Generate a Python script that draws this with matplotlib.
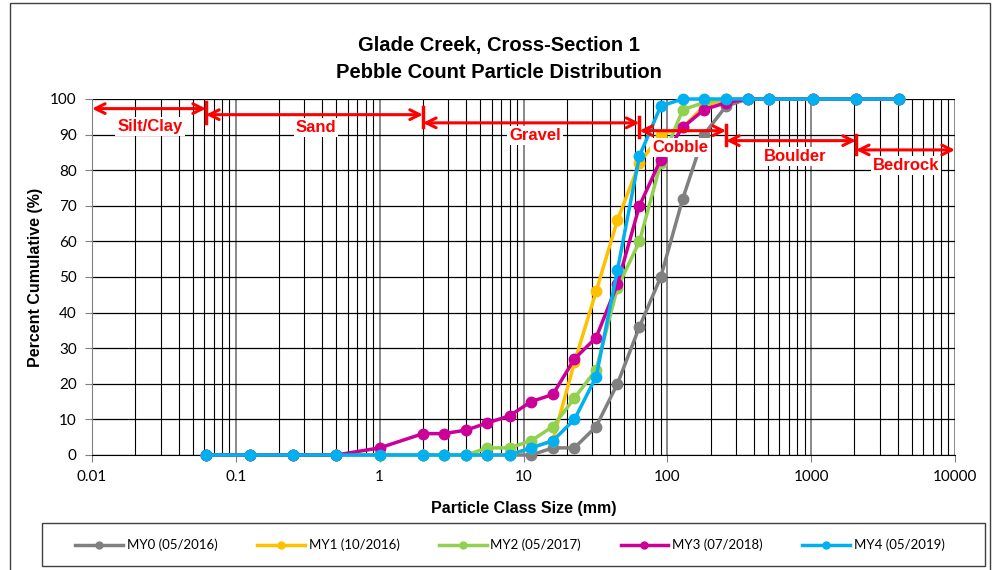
import numpy as np
import matplotlib
matplotlib.use('Agg')
import matplotlib.pyplot as plt
from matplotlib.lines import Line2D
from matplotlib.patches import Rectangle

# particle class sizes (mm)
sizes = [0.062, 0.125, 0.25, 0.5, 1, 2, 2.8, 4, 5.6, 8, 11.3, 16, 22.6, 32, 45,
         64, 90, 128, 180, 256, 362, 512, 1024, 2048, 4096]

my0 = [0, 0, 0, 0, 0, 0, 0, 0, 0, 0, 0, 2, 2, 8, 20, 36, 50, 72, 90, 98, 100, 100, 100, 100, 100]
my1 = [0, 0, 0, 0, 0, 0, 0, 0, 0, 0, 2, 4, 26, 46, 66, 82, 90, 92, 98, 100, 100, 100, 100, 100, 100]
my2 = [0, 0, 0, 0, 0, 0, 0, 0, 2, 2, 4, 8, 16, 24, 47, 60, 82, 97, 99, 100, 100, 100, 100, 100, 100]
my3 = [0, 0, 0, 0, 2, 6, 6, 7, 9, 11, 15, 17, 27, 33, 48, 70, 83, 92, 97, 99, 100, 100, 100, 100, 100]
my4 = [0, 0, 0, 0, 0, 0, 0, 0, 0, 0, 2, 4, 10, 22, 52, 84, 98, 100, 100, 100, 100, 100, 100, 100, 100]

series_labels = ['MY0 (05/2016)', 'MY1 (10/2016)', 'MY2 (05/2017)', 'MY3 (07/2018)', 'MY4 (05/2019)']
series_colors = ['#808080', '#FFC000', '#92D050', '#CC0099', '#00B0F0']

# size class boundaries and names
bounds = [0.01, 0.062, 2, 64, 256, 2048, 10000]
classes = ['Silt/Clay', 'Sand', 'Gravel', 'Cobble', 'Boulder', 'Bedrock']

plt.rcParams['font.family'] = ['Lato', 'DejaVu Sans']

fig = plt.figure(figsize=(9.97, 5.70), dpi=100)
W, H = 997, 570
ax = fig.add_axes([92 / W, 1 - 455 / H, (955 - 92) / W, (455 - 99) / H])

ax.set_xscale('log')
ax.set_xlim(0.01, 10000)
ax.set_ylim(0, 100)
ax.set_yticks(range(0, 101, 10))
ax.set_xticks([0.01, 0.1, 1, 10, 100, 1000, 10000])
ax.set_xticklabels(['0.01', '0.1', '1', '10', '100', '1000', '10000'])
ax.xaxis.set_minor_locator(matplotlib.ticker.LogLocator(base=10, subs=np.arange(2, 10), numticks=20))
ax.xaxis.set_minor_formatter(matplotlib.ticker.NullFormatter())

ax.grid(which='major', axis='x', color='#808080', lw=1.3)
ax.grid(which='minor', axis='x', color='#000000', lw=0.8)
ax.grid(which='major', axis='y', color='#000000', lw=0.9)
ax.set_axisbelow(True)
for s in ['top', 'right']:
    ax.spines[s].set_visible(False)
ax.spines['left'].set_color('#808080')
ax.spines['bottom'].set_color('#000000')
ax.tick_params(which='major', direction='out', length=5, color='#808080', labelsize=11, pad=6)
ax.tick_params(which='minor', length=0)

for vals, lab, col in zip([my0, my1, my2, my3, my4], series_labels, series_colors):
    ax.plot(sizes, vals, color=col, lw=2.5, marker='o', ms=7.5, label=lab, clip_on=False, zorder=3)

# class range arrows
arrow_y = [97.3, 95.6, 93.3, 91.1, 88.3, 85.7]
text_y = [92.2, 91.9, 89.7, 86.3, 83.8, 81.2]
text_x = [0.0253, 0.36, 12, 123, 774, 4570]
for i, name in enumerate(classes):
    ax.annotate('', xy=(bounds[i + 1], arrow_y[i]), xytext=(bounds[i], arrow_y[i]),
                arrowprops=dict(arrowstyle='<->,head_length=0.7,head_width=0.35', color='red',
                                lw=2.2, shrinkA=0, shrinkB=0), zorder=5)
    ax.text(text_x[i], text_y[i], name, color='red', fontsize=12, fontweight='bold',
            family='Liberation Sans', ha='center', va='center', zorder=5,
            bbox=dict(facecolor='white', edgecolor='none', pad=1.5))
# boundary bars
bar_top = [99.2, 97.8, 95.0, 92.8, 90.0]
bar_bot = [93.3, 92.0, 89.3, 87.1, 84.5]
for b, t, lo in zip(bounds[1:-1], bar_top, bar_bot):
    ax.plot([b, b], [lo, t], color='red', lw=2.5, zorder=5)

bold = dict(fontweight='bold', family='Liberation Sans')
ax.set_ylabel('Percent Cumulative (%)', fontsize=11.5, labelpad=5, **bold)
ax.set_xlabel('Particle Class Size (mm)', fontsize=11.5, labelpad=12, **bold)
fig.text(0.5, 1 - 45 / H, 'Glade Creek, Cross-Section 1', ha='center', va='center',
         fontsize=14.5, **bold)
fig.text(0.5, 1 - 73 / H, 'Pebble Count Particle Distribution', ha='center', va='center',
         fontsize=14.5, **bold)

handles = [Line2D([0, 0.5, 1], [0, 0, 0], color=c, lw=2.5, marker='o', ms=5, markevery=[1])
           for c in series_colors]
leg = fig.legend(handles, series_labels, loc='center', bbox_to_anchor=(510 / W, 1 - 545 / H),
                 ncol=5, frameon=False, fontsize=9.5, handlelength=3.6, handletextpad=0.3,
                 columnspacing=3.0, borderaxespad=0)
fig.patches.append(Rectangle((42 / W, 1 - 566 / H), 943 / W, 43 / H, transform=fig.transFigure,
                             fill=False, edgecolor='#404040', lw=1))

fig.patches.append(Rectangle((10 / W, -0.01), 980 / W, 1 - 3 / H + 0.01, transform=fig.transFigure,
                             fill=False, edgecolor='#404040', lw=1))

fig.savefig('out.png', dpi=100)
